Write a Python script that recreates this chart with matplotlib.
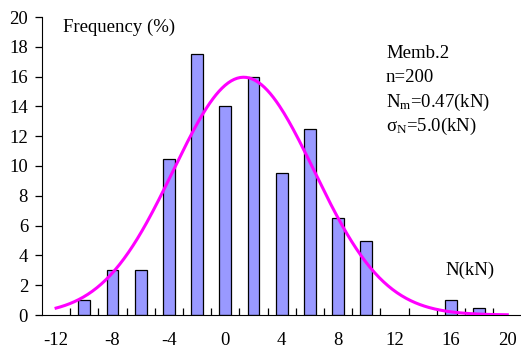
import numpy as np
import matplotlib
matplotlib.use('Agg')
import matplotlib.pyplot as plt

plt.rcParams['font.family'] = 'Liberation Serif'
plt.rcParams['mathtext.fontset'] = 'custom'
plt.rcParams['mathtext.rm'] = 'Liberation Serif'
plt.rcParams['mathtext.it'] = 'Liberation Serif:italic'
plt.rcParams['axes.unicode_minus'] = False

# histogram of member force N, frequency in percent
bin_centers = [-10, -8, -6, -4, -2, 0, 2, 4, 6, 8, 10, 16, 18]
freq = [1, 3, 3, 10.5, 17.5, 14, 16, 9.5, 12.5, 6.5, 5, 1, 0.5]

# fitted normal curve (percent per 2 kN bin)
bin_width = 2.0
curve_mean = 1.3
curve_sigma = 5.0
curve_range = (-12, 20)

info_lines = ['Memb.2', 'n=200', r'N$_{\mathrm{m}}$=0.47(kN)', r'σ$_{\mathrm{N}}$=5.0(kN)']

fs = 13.5

fig = plt.figure(figsize=(5.21, 3.51), dpi=100)
ax = fig.add_axes([42 / 521, 36 / 351, 478 / 521, 298 / 351])

ax.bar(bin_centers, freq, width=0.85, color='#9999ff', edgecolor='black', linewidth=0.9, zorder=2)

xs = np.linspace(curve_range[0], curve_range[1], 300)
pdf = np.exp(-0.5 * ((xs - curve_mean) / curve_sigma) ** 2) / (curve_sigma * np.sqrt(2 * np.pi))
ax.plot(xs, 100 * bin_width * pdf, color='#ff00ff', linewidth=2.2, zorder=3)

ax.set_xlim(-13, 20.9)
ax.set_ylim(0, 20)
ax.spines['top'].set_visible(False)
ax.spines['right'].set_visible(False)

ax.set_xticks(np.arange(-12, 21, 4))
ax.tick_params(axis='x', which='major', length=0, pad=12, labelsize=fs)
ax.set_xticks(np.arange(-11, 20, 2), minor=True)
ax.tick_params(axis='x', which='minor', direction='in', length=5, width=0.9)
ax.set_yticks(np.arange(0, 21, 2))
ax.tick_params(axis='y', direction='out', length=5, width=0.9, pad=5, labelsize=fs)

ax.text(63, 324, 'Frequency (%)', transform=None, fontsize=fs, va='center', ha='left')
for i, line in enumerate(info_lines):
    ax.text(386, 298 - i * 24.5, line, transform=None, fontsize=fs, va='center', ha='left')
ax.text(445, 81, 'N(kN)', transform=None, fontsize=fs, va='center', ha='left')

fig.savefig('out.png', dpi=100)
